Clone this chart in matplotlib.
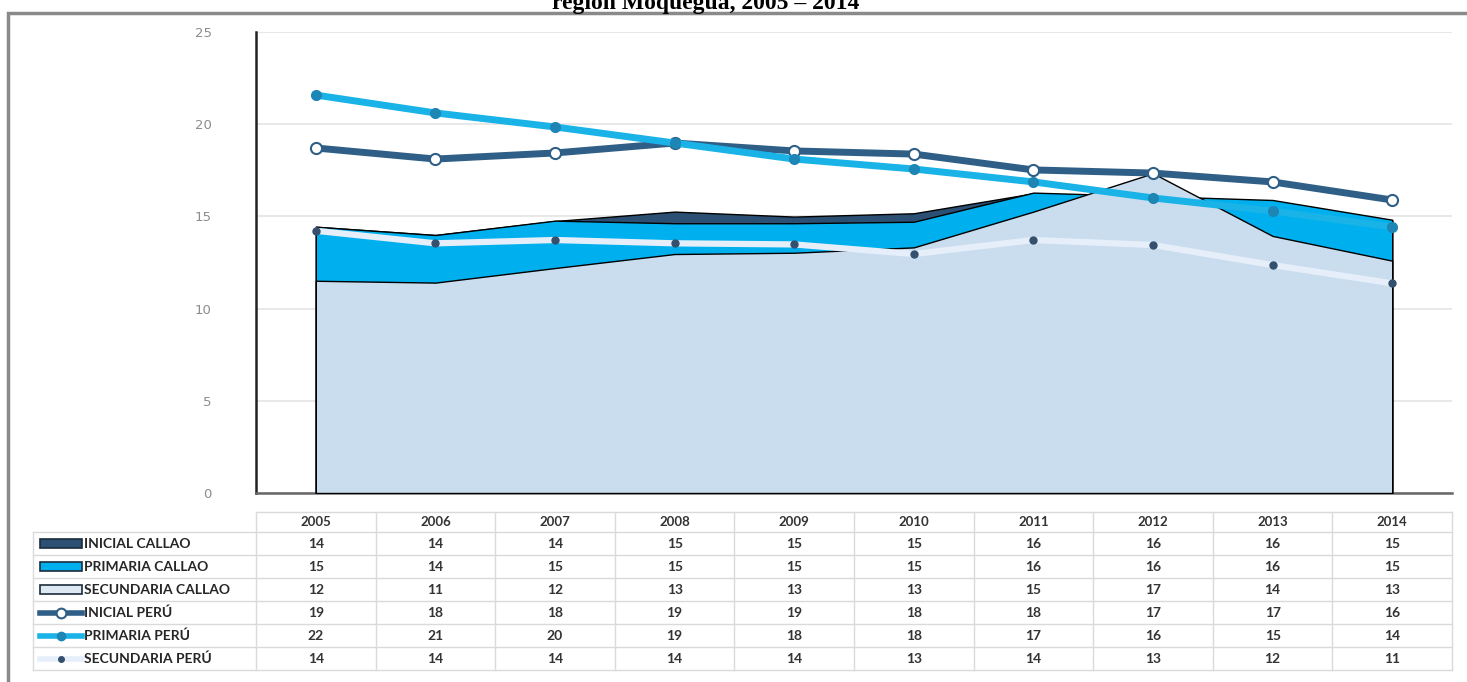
import numpy as np
import matplotlib
matplotlib.use('Agg')
import matplotlib.pyplot as plt
from matplotlib.patches import Rectangle
from matplotlib.lines import Line2D

# data (plotted values), table values as printed
years = ['2005', '2006', '2007', '2008', '2009', '2010', '2011', '2012', '2013', '2014']
inicial_callao = [14.44, 13.99, 14.75, 15.26, 14.99, 15.17, 16.25, 16.05, 15.85, 14.78]
primaria_callao = [14.44, 13.99, 14.77, 14.63, 14.63, 14.71, 16.29, 16.10, 15.89, 14.82]
secundaria_callao = [11.51, 11.41, 12.20, 12.96, 13.03, 13.32, 15.26, 17.34, 13.94, 12.60]
inicial_peru = [18.71, 18.11, 18.44, 18.98, 18.55, 18.38, 17.52, 17.35, 16.87, 15.89]
primaria_peru = [21.58, 20.61, 19.85, 18.98, 18.11, 17.57, 16.87, 16.00, 15.29, 14.43]
secundaria_peru = [14.22, 13.54, 13.72, 13.54, 13.48, 12.96, 13.72, 13.45, 12.36, 11.37]

row_labels = ['INICIAL CALLAO', 'PRIMARIA CALLAO', 'SECUNDARIA CALLAO',
              'INICIAL PERÚ', 'PRIMARIA PERÚ', 'SECUNDARIA PERÚ']
table_values = [
    [14, 14, 14, 15, 15, 15, 16, 16, 16, 15],
    [15, 14, 15, 15, 15, 15, 16, 16, 16, 15],
    [12, 11, 12, 13, 13, 13, 15, 17, 14, 13],
    [19, 18, 18, 19, 19, 18, 18, 17, 17, 16],
    [22, 21, 20, 19, 18, 18, 17, 16, 15, 14],
    [14, 14, 14, 14, 14, 13, 14, 13, 12, 11],
]

c_ini = '#2b5073'
c_pri = '#00b0ee'
c_sec = '#c9ddef'
c_ini_l = '#2f5f86'
c_pri_l = '#19b3e8'
c_sec_l = '#e6eff9'
c_dot = '#34506e'

W, H = 1467, 682
fig = plt.figure(figsize=(W / 100, H / 100), dpi=100)

# outer frame and (cut-off) title
fig.patches.append(Rectangle((8 / W, -0.05), 1.1, (H - 13) / H + 0.05,
                             transform=fig.transFigure, fill=False,
                             edgecolor='#8a8a8a', linewidth=2.5))
fig.text(706 / W, 1 - 9 / H, 'región Moquegua, 2005 – 2014', ha='center', va='baseline',
         family='Liberation Serif', weight='bold', fontsize=17)

ax = fig.add_axes([256 / W, (H - 493) / H, 1196 / W, 461 / H])
x = np.arange(len(years))

ax.fill_between(x, 0, inicial_callao, facecolor=c_ini, edgecolor='black', linewidth=1, zorder=2)
ax.fill_between(x, 0, primaria_callao, facecolor=c_pri, edgecolor='black', linewidth=1, zorder=3)
ax.fill_between(x, 0, secundaria_callao, facecolor=c_sec, edgecolor='black', linewidth=1, zorder=4)

ax.plot(x, secundaria_peru, color=c_sec_l, lw=4.5, marker='o', ms=5,
        mfc=c_dot, mec=c_dot, zorder=5)
ax.plot(x, inicial_peru, color=c_ini_l, lw=5, marker='o', ms=8,
        mfc='white', mec=c_ini_l, mew=1.5, zorder=6)
ax.plot(x, primaria_peru, color=c_pri_l, lw=5, marker='o', ms=7,
        mfc='#1d86b5', mec='#1d86b5', zorder=7)

ax.set_xlim(-0.5, len(years) - 0.5)
ax.set_ylim(0, 25)
ax.set_yticks([0, 5, 10, 15, 20, 25])
ax.set_xticks([])
ax.tick_params(axis='y', length=0, pad=32, labelsize=9.5, labelcolor='#8c8c8c')
ax.grid(axis='y', color='#e4e4e4', linewidth=1.2, zorder=0)
ax.set_axisbelow(True)
for s in ['top', 'right']:
    ax.spines[s].set_visible(False)
ax.spines['left'].set_color('#222222')
ax.spines['left'].set_linewidth(1.8)
ax.spines['bottom'].set_color('#666666')
ax.spines['bottom'].set_linewidth(1.8)

# data table under the chart
tab = fig.add_axes([256 / W, (H - 670) / H, 1196 / W, 158 / H])
tab.set_xlim(-0.5, len(years) - 0.5)
tab.set_ylim(670, 512)
tab.axis('off')


def px(v):
    # figure pixel column -> table data x
    return -0.5 + (v - 256) / 119.6


grid_c = '#dadada'
row_edges = [532, 555, 578, 601, 624, 647, 670]
tab.plot([-0.5, len(years) - 0.5], [512, 512], color=grid_c, lw=1, clip_on=False)
for yy in row_edges:
    tab.plot([px(33), len(years) - 0.5], [yy, yy], color=grid_c, lw=1, clip_on=False)
for i in range(len(years) + 1):
    tab.plot([i - 0.5, i - 0.5], [512, 670], color=grid_c, lw=1, clip_on=False)
tab.plot([px(33), px(33)], [532, 670], color=grid_c, lw=1, clip_on=False)

for i, yr in enumerate(years):
    tab.text(i, 522, yr, ha='center', va='center', fontsize=9.5,
             family='Lato', weight='bold', color='#333333')

for r, lab in enumerate(row_labels):
    yc = (row_edges[r] + row_edges[r + 1]) / 2
    tab.text(px(84), yc, lab, ha='left', va='center', fontsize=10,
             family='Lato', weight='bold', color='#262626', clip_on=False)
    for i, v in enumerate(table_values[r]):
        tab.text(i, yc, str(v), ha='center', va='center', fontsize=10,
                 family='Lato', weight='bold', color='#333333')

# legend keys in the label column
k0, k1 = px(40), px(82)
area_cols = [c_ini, c_pri, '#dde8f2']
for r in range(3):
    yc = (row_edges[r] + row_edges[r + 1]) / 2
    tab.add_patch(Rectangle((k0, yc - 4.5), k1 - k0, 9, facecolor=area_cols[r],
                            edgecolor='#1c2c3c', linewidth=1.2, clip_on=False))
line_styles = [
    dict(color=c_ini_l, lw=4, marker='o', ms=7, mfc='white', mec=c_ini_l, mew=1.5),
    dict(color=c_pri_l, lw=4, marker='o', ms=6, mfc='#1d86b5', mec='#1d86b5'),
    dict(color=c_sec_l, lw=4, marker='o', ms=4, mfc=c_dot, mec=c_dot),
]
for j, st in enumerate(line_styles):
    r = 3 + j
    yc = (row_edges[r] + row_edges[r + 1]) / 2
    tab.add_line(Line2D([k0, (k0 + k1) / 2, k1], [yc, yc, yc], markevery=[1],
                        clip_on=False, **st))

fig.savefig('out.png', dpi=100)
